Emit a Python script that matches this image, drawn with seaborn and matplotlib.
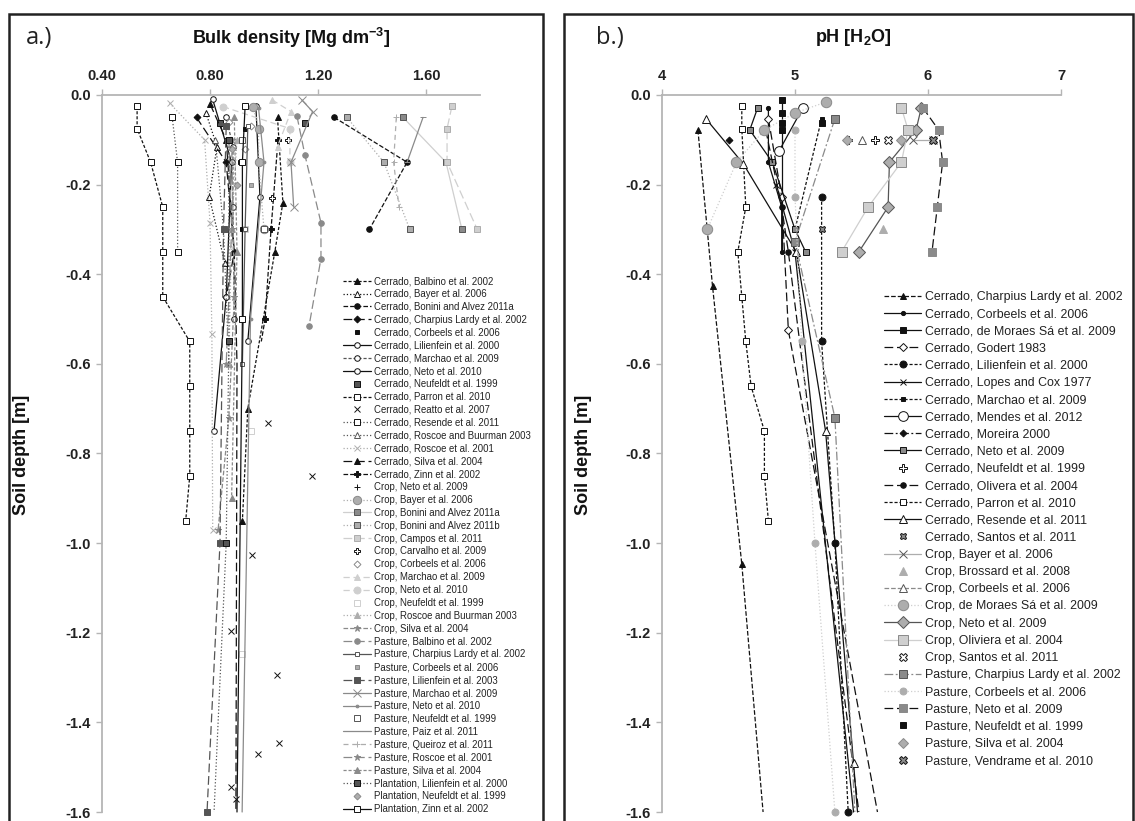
import matplotlib as mpl
import matplotlib.pyplot as plt
import seaborn as sns
from matplotlib.patches import Rectangle

mpl.use("Agg")

# ---------------------------------------------------------------- data
# a) bulk density [Mg dm-3] vs soil depth [m]
A_LABELS = [
    "Cerrado, Balbino et al. 2002", "Cerrado, Bayer et al. 2006",
    "Cerrado, Bonini and Alvez 2011a", "Cerrado, Charpius Lardy et al. 2002",
    "Cerrado, Corbeels et al. 2006", "Cerrado, Lilienfein et al. 2000",
    "Cerrado, Marchao et al. 2009", "Cerrado, Neto et al. 2010",
    "Cerrado, Neufeldt et al. 1999", "Cerrado, Parron et al. 2010",
    "Cerrado, Reatto et al. 2007", "Cerrado, Resende et al. 2011",
    "Cerrado, Roscoe and Buurman 2003", "Cerrado, Roscoe et al. 2001",
    "Cerrado, Silva et al. 2004", "Cerrado, Zinn et al. 2002",
    "Crop, Neto et al. 2009", "Crop, Bayer et al. 2006",
    "Crop, Bonini and Alvez 2011a", "Crop, Bonini and Alvez 2011b",
    "Crop, Campos et al. 2011", "Crop, Carvalho et al. 2009",
    "Crop, Corbeels et al. 2006", "Crop, Marchao et al. 2009",
    "Crop, Neto et al. 2010", "Crop, Neufeldt et al. 1999",
    "Crop, Roscoe and Buurman 2003", "Crop, Silva et al. 2004",
    "Pasture, Balbino et al. 2002", "Pasture, Charpius Lardy et al. 2002",
    "Pasture, Corbeels et al. 2006", "Pasture, Lilienfein et al. 2003",
    "Pasture, Marchao et al. 2009", "Pasture, Neto et al. 2010",
    "Pasture, Neufeldt et al. 1999", "Pasture, Paiz et al. 2011",
    "Pasture, Queiroz et al. 2011", "Pasture, Roscoe et al. 2001",
    "Pasture, Silva et al. 2004", "Plantation, Lilienfein et al. 2000",
    "Plantation, Neufeldt et al. 1999", "Plantation, Zinn et al. 2002",
]
A_BD = [
    [1.05, 1.07, 1.04, 0.94, 0.92],
    [0.785, 0.826, 0.797, 0.855],
    [1.26, 1.53, 1.39],
    [0.75, 0.86, 0.89, 0.86],
    [0.93, 0.91, 0.92],
    [0.81, 0.88, 0.86, 0.815],
    [0.86, 0.885, 0.885, 0.89],
    [0.97, 0.985, 0.94],
    [0.837, 1.15],
    [0.53, 0.53, 0.58, 0.625, 0.625, 0.625, 0.725, 0.725, 0.725, 0.725, 0.71],
    [1.015, 1.178, 0.956, 0.878, 1.048, 1.056, 0.978, 0.878, 0.896],
    [0.66, 0.68, 0.68],
    [0.82, 0.85, 0.87],
    [0.65, 0.78, 0.80, 0.807, 0.81],
    [0.80, 0.86, 0.89, 0.90, 0.896],
    [1.052, 1.026, 1.004, 0.99],
    [1.03],
    [0.96, 0.98, 0.98, 1.0],
    [1.515, 1.674, 1.733],
    [1.307, 1.444, 1.54],
    [1.696, 1.678, 1.678, 1.79],
    [1.09, 1.03],
    [0.87, 0.95, 0.93],
    [1.03, 1.10, 1.05],
    [0.848, 1.096, 1.096],
    [0.93, 0.952, 0.919],
    [0.9, 0.88, 0.87],
    [0.88, 0.89, 0.87, 0.83],
    [1.122, 1.152, 1.211, 1.211, 1.167],
    [0.94, 0.93, 0.92],
    [0.92, 0.95],
    [0.86, 0.85, 0.837, 0.789],
    [1.14, 1.18, 1.10, 1.11],
    [0.98, 1.0, 0.95, 0.919],
    [0.92, 1.0],
    [1.589, 1.53],
    [1.49, 1.48, 1.50],
    [0.87, 0.88, 0.86],
    [0.89, 0.90, 0.88],
    [0.87, 0.87, 0.86, 0.815],
    [0.88, 0.9],
    [0.93, 0.92, 0.92, 0.90],
]
A_DEPTH = [
    [-0.05, -0.24, -0.35, -0.70, -0.95],
    [-0.04, -0.115, -0.227, -0.375],
    [-0.05, -0.15, -0.30],
    [-0.05, -0.15, -0.35, -0.45],
    [-0.075, -0.15, -0.30],
    [-0.01, -0.15, -0.45, -0.75],
    [-0.05, -0.115, -0.25, -0.50],
    [-0.025, -0.227, -0.55],
    [-0.062, -0.062],
    [-0.025, -0.075, -0.15, -0.25, -0.35, -0.45, -0.55, -0.65, -0.75, -0.85, -0.95],
    [-0.733, -0.85, -1.027, -1.195, -1.295, -1.445, -1.47, -1.545, -1.57],
    [-0.05, -0.15, -0.35],
    [-0.10, -0.30, -0.60],
    [-0.018, -0.10, -0.285, -0.533, -0.97],
    [-0.02, -0.10, -0.35, -0.60, -1.6],
    [-0.10, -0.30, -0.50, -0.55],
    [-0.23],
    [-0.026, -0.075, -0.15, -0.30],
    [-0.05, -0.15, -0.30],
    [-0.05, -0.15, -0.30],
    [-0.025, -0.075, -0.15, -0.30],
    [-0.10, -0.23],
    [-0.06, -0.07, -0.12],
    [-0.011, -0.037, -0.115],
    [-0.026, -0.075, -0.15],
    [-0.30, -0.75, -1.247],
    [-0.10, -0.30, -0.60],
    [-0.10, -0.45, -0.72, -0.97],
    [-0.047, -0.135, -0.285, -0.365, -0.515],
    [-0.07, -0.30, -0.60],
    [-0.10, -0.20],
    [-0.07, -0.30, -1.0, -1.6],
    [-0.011, -0.037, -0.15, -0.25],
    [-0.03, -0.15, -0.50, -1.6],
    [-0.10, -0.30],
    [-0.05, -0.15],
    [-0.05, -0.15, -0.25],
    [-0.10, -0.30, -0.60],
    [-0.05, -0.35, -0.90],
    [-0.10, -0.55, -1.0, -1.6],
    [-0.12, -0.20],
    [-0.025, -0.15, -0.50, -1.6],
]

# b) pH (H2O) vs soil depth [m]
B_LABELS = [
    "Cerrado, Charpius Lardy et al. 2002", "Cerrado, Corbeels et al. 2006",
    "Cerrado, de Moraes Sá et al. 2009", "Cerrado, Godert 1983",
    "Cerrado, Lilienfein et al. 2000", "Cerrado, Lopes and Cox 1977",
    "Cerrado, Marchao et al. 2009", "Cerrado, Mendes et al. 2012",
    "Cerrado, Moreira 2000", "Cerrado, Neto et al. 2009",
    "Cerrado, Neufeldt et al. 1999", "Cerrado, Olivera et al. 2004",
    "Cerrado, Parron et al. 2010", "Cerrado, Resende et al. 2011",
    "Cerrado, Santos et al. 2011", "Crop, Bayer et al. 2006",
    "Crop, Brossard et al. 2008", "Crop, Corbeels et al. 2006",
    "Crop, de Moraes Sá et al. 2009", "Crop, Neto et al. 2009",
    "Crop, Oliviera et al. 2004", "Crop, Santos et al. 2011",
    "Pasture, Charpius Lardy et al. 2002", "Pasture, Corbeels et al. 2006",
    "Pasture, Neto et al. 2009", "Pasture, Neufeldt et al. 1999",
    "Pasture, Silva et al. 2004", "Pasture, Vendrame et al. 2010",
]
B_PH = [
    [4.27, 4.38, 4.60, 4.76],
    [4.80, 4.80, 4.90, 4.90],
    [4.90, 4.90, 4.90, 4.90],
    [4.80, 4.90, 4.95, 5.62],
    [5.20, 5.20, 5.30, 5.40],
    [4.86, 5.0, 5.44],
    [5.20, 5.0],
    [5.06, 4.88],
    [4.50],
    [4.72, 4.66, 4.83, 5.0, 5.08],
    [5.40, 5.60],
    [4.78, 4.90, 4.95, 5.48],
    [4.60, 4.60, 4.63, 4.57, 4.60, 4.63, 4.67, 4.77, 4.77, 4.80],
    [4.33, 4.61, 5.01, 5.23, 5.44, 5.47],
    [5.20],
    [5.89, 6.04],
    [5.66],
    [5.50],
    [5.23, 5.0, 4.77, 4.56, 4.34],
    [5.95, 5.91, 5.71, 5.70, 5.48],
    [5.80, 5.85, 5.80, 5.55, 5.35],
    [5.70],
    [5.30, 5.0, 5.30, 5.45],
    [5.0, 5.0, 5.05, 5.15, 5.30],
    [5.96, 6.08, 6.11, 6.07, 6.03],
    [4.90, 5.20],
    [5.80, 5.39],
    [6.04],
]
B_DEPTH = [
    [-0.078, -0.427, -1.047, -1.6],
    [-0.028, -0.15, -0.25, -0.35],
    [-0.012, -0.04, -0.078, -0.35],
    [-0.053, -0.227, -0.525, -1.6],
    [-0.227, -0.55, -1.0, -1.6],
    [-0.20, -0.35, -1.6],
    [-0.053, -0.30],
    [-0.028, -0.125],
    [-0.10],
    [-0.028, -0.078, -0.15, -0.30, -0.35],
    [-0.10, -0.10],
    [-0.078, -0.25, -0.35, -1.6],
    [-0.025, -0.075, -0.25, -0.35, -0.45, -0.55, -0.65, -0.75, -0.85, -0.95],
    [-0.053, -0.153, -0.35, -0.75, -1.49, -1.6],
    [-0.30],
    [-0.10, -0.10],
    [-0.30],
    [-0.10],
    [-0.016, -0.04, -0.078, -0.15, -0.30],
    [-0.028, -0.078, -0.15, -0.25, -0.35],
    [-0.028, -0.078, -0.15, -0.25, -0.35],
    [-0.10],
    [-0.053, -0.327, -0.72, -1.6],
    [-0.078, -0.227, -0.55, -1.0, -1.6],
    [-0.028, -0.078, -0.15, -0.25, -0.35],
    [-0.062, -0.062],
    [-0.10, -0.10],
    [-0.10],
]

A_XTICKS = [0.40, 0.80, 1.20, 1.60]
B_XTICKS = [4, 5, 6, 7]
YTICKS = [0.0, -0.2, -0.4, -0.6, -0.8, -1.0, -1.2, -1.4, -1.6]

# ---------------------------------------------------------------- styles
K, D, G, L, VL = "#111111", "#555555", "#8a8a8a", "#adadad", "#cfcfcf"
LD = (0, (7, 3))
DD = (0, (7, 2, 1.5, 2))
SD = (0, (2.5, 1.5))

# (linestyle, marker, line colour, face colour, edge colour, marker size, markevery)
A_STYLE = [
    (SD, "^", K, K, K, 4, None), (":", "^", K, "w", K, 4, None),
    ("--", "o", K, K, K, 4, None), (LD, "D", K, K, K, 3.5, None),
    ("", "s", K, K, K, 3, None), ("-", "o", K, "w", K, 4, None),
    (SD, "o", D, "w", K, 4, None), ("-", "o", K, "w", K, 4, None),
    ("", "s", D, D, K, 4.5, None), (SD, "s", K, "w", K, 4, None),
    ("", "x", K, K, K, 4.5, None), (":", "s", D, "w", K, 4, None),
    (":", "^", D, "w", D, 4, None), (":", "x", L, L, L, 4.5, None),
    (LD, "^", K, K, K, 4, [0, 1, 2]), ("--", "P", K, K, K, 5, [0, 1, 2]),
    ("", "+", K, K, K, 5, None), (":", "o", L, L, G, 6, None),
    ("-", "s", VL, G, D, 4.5, None), (":", "s", L, L, D, 4.5, None),
    (LD, "s", VL, VL, L, 4.5, None), ("", "P", K, "w", K, 5, None),
    ("", "D", L, "w", G, 3.5, None), ((0, (5, 3)), "^", VL, VL, VL, 5, None),
    ((0, (5, 3)), "o", VL, VL, VL, 5, None), ("", "s", L, "w", VL, 5, None),
    (":", "^", L, L, L, 4, None), ("--", "*", G, G, G, 5, None),
    (LD, "o", G, G, G, 4, None), ("-", "s", D, "w", D, 3.5, None),
    ("", "s", L, L, G, 3.5, None), (LD, "s", D, D, D, 4.5, None),
    ("-", "x", G, G, G, 6, None), ("-", ".", G, G, G, 4, [0, 1, 2]),
    ("", "s", D, "w", D, 4.5, None), ("-", "_", G, G, G, 5, None),
    ((0, (4, 3)), "+", L, L, L, 5, None), (LD, "*", G, G, G, 5, None),
    (SD, "^", G, G, G, 4, None), (":", "s", D, D, K, 4, [0, 1, 2]),
    ("", "D", L, L, G, 3.5, None), ("-", "s", K, "w", K, 4, [0, 1, 2]),
]
B_STYLE = [
    ("--", "^", K, K, K, 4.5, [0, 1, 2]), ("-", "o", K, K, K, 3, None),
    ("-", "s", K, K, K, 5, [0, 1, 2]), (LD, "D", K, "w", K, 4.5, [0, 1, 2]),
    (SD, "o", K, K, K, 5, None), ("-", "x", K, K, K, 5, [0, 1]),
    (SD, "s", K, K, K, 3.5, None), ("-", "o", K, "w", K, 7, None),
    (DD, "D", K, K, K, 3.5, None), ("-", "s", K, G, K, 4, None),
    ("", "P", K, "w", K, 6, None), (LD, "o", K, K, K, 4, [0, 1, 2]),
    (SD, "s", K, "w", K, 5, None), ("-", "^", K, "w", K, 6, [0, 1, 2, 3, 4]),
    ("", "X", K, G, K, 5, None), ("-", "x", L, L, D, 6, None),
    ("", "^", L, L, L, 6, None), ("--", "^", G, "w", D, 6, None),
    (":", "o", VL, L, G, 7.5, None), ("-", "D", D, L, D, 6.5, None),
    ("-", "s", VL, VL, G, 6.5, None), ("", "X", K, "w", K, 5.5, None),
    (DD, "s", G, G, D, 6, [0, 1, 2]), (":", "o", VL, L, L, 5, None),
    (LD, "s", K, G, G, 6, None), ("", "s", K, K, K, 5, None),
    ("", "D", L, L, G, 5, None), ("", "X", D, G, K, 6, None),
]

# ---------------------------------------------------------------- theme
sns.set_theme(style="white")
plt.rcParams["font.family"] = ["Liberation Sans", "DejaVu Sans"]
plt.rcParams["axes.unicode_minus"] = False
plt.rcParams["mathtext.fontset"] = "custom"
plt.rcParams["mathtext.rm"] = "Liberation Sans:bold"
plt.rcParams["mathtext.bf"] = "Liberation Sans:bold"
plt.rcParams["mathtext.it"] = "Liberation Sans:bold"

W, H = 1135, 821
fig = plt.figure(figsize=(W / 100, H / 100), dpi=100)


def fx(px):
    return px / W


def fy(py):
    return 1 - py / H


def draw_panel(ax, xs_list, ys_list, labels, styles, lw):
    handles = []
    for xs, ys, lab, st in zip(xs_list, ys_list, labels, styles):
        ls, mk, c, mfc, mec, ms, me = st
        sns.lineplot(x=xs, y=ys, sort=False, estimator=None, ax=ax,
                     color=c, linestyle=ls if ls else "none", linewidth=lw,
                     marker=mk, markerfacecolor=mfc, markeredgecolor=mec,
                     markeredgewidth=0.7, markersize=ms,
                     markevery=me, clip_on=False, label=lab, legend=False)
        handles.append(ax.get_lines()[-1])
    return handles


def style_axes(ax, xlim, xticks, xfmt):
    ax.set_xlim(*xlim)
    ax.set_ylim(-1.6, 0.0)
    ax.xaxis.tick_top()
    ax.set_xticks(xticks)
    ax.set_xticklabels([xfmt.format(v) for v in xticks])
    ax.set_yticks(YTICKS)
    ax.set_yticklabels([f"{abs(v):.1f}" if v == 0 else f"{v:.1f}" for v in YTICKS])
    for side in ["right", "bottom"]:
        ax.spines[side].set_visible(False)
    for side in ["top", "left"]:
        ax.spines[side].set_color("#b5b5b5")
        ax.spines[side].set_linewidth(1.3)
    ax.tick_params(axis="x", which="both", top=True, bottom=False, length=4,
                   width=1, color="#b5b5b5", pad=5, labelsize=10.5)
    ax.tick_params(axis="y", left=True, length=4, width=1, color="#b5b5b5",
                   pad=4, labelsize=10.5)
    for t in ax.get_xticklabels() + ax.get_yticklabels():
        t.set_fontweight("bold")
        t.set_color("#222222")
    ax.set_xlabel("")
    ax.set_ylabel("")
    ax.patch.set_alpha(0)


# panel frames
for x0, x1 in [(9, 543), (564, 1133)]:
    fig.patches.append(Rectangle((fx(x0), fy(830)), fx(x1 - x0), (830 - 14) / H,
                                 transform=fig.transFigure, fill=False,
                                 edgecolor="#222222", linewidth=1.8))

TOP, BOT = 95, 812
ax_a = fig.add_axes([fx(102), fy(BOT), fx(378), (BOT - TOP) / H])
ax_b = fig.add_axes([fx(662), fy(BOT), fx(399), (BOT - TOP) / H])

h_a = draw_panel(ax_a, A_BD, A_DEPTH, A_LABELS, A_STYLE, 0.9)
h_b = draw_panel(ax_b, B_PH, B_DEPTH, B_LABELS, B_STYLE, 0.9)

style_axes(ax_a, (0.4, 1.8), A_XTICKS, "{:.2f}")
style_axes(ax_b, (4, 7), B_XTICKS, "{:d}")

ax_a.legend(handles=h_a, labels=A_LABELS, loc="upper left",
            bbox_to_anchor=(fx(343), fy(276)), bbox_transform=fig.transFigure,
            frameon=False, fontsize=6.9, labelspacing=0.30, handlelength=2.9,
            handletextpad=0.35, borderpad=0, borderaxespad=0, labelcolor="#222222")
ax_b.legend(handles=h_b, labels=B_LABELS, loc="upper left",
            bbox_to_anchor=(fx(884), fy(291)), bbox_transform=fig.transFigure,
            frameon=False, fontsize=8.9, labelspacing=0.42, handlelength=3.0,
            handletextpad=0.35, borderpad=0, borderaxespad=0, labelcolor="#222222")

# titles, panel letters, axis labels
fig.text(fx(291), fy(38), r"Bulk density [Mg dm$^{-3}$]", ha="center",
         va="center", fontsize=13, fontweight="bold", color="#111111")
fig.text(fx(853), fy(38), r"pH [H$_{2}$O]", ha="center", va="center",
         fontsize=13, fontweight="bold", color="#111111")
fig.text(fx(26), fy(38), "a.)", ha="left", va="center", fontsize=17,
         family="Open Sans", color="#222222")
fig.text(fx(596), fy(38), "b.)", ha="left", va="center", fontsize=17,
         family="Open Sans", color="#222222")
fig.text(fx(22), fy(455), "Soil depth [m]", rotation=90, ha="center",
         va="center", fontsize=13, fontweight="bold", color="#111111")
fig.text(fx(583), fy(455), "Soil depth [m]", rotation=90, ha="center",
         va="center", fontsize=13, fontweight="bold", color="#111111")

fig.savefig("out.png", dpi=100)
